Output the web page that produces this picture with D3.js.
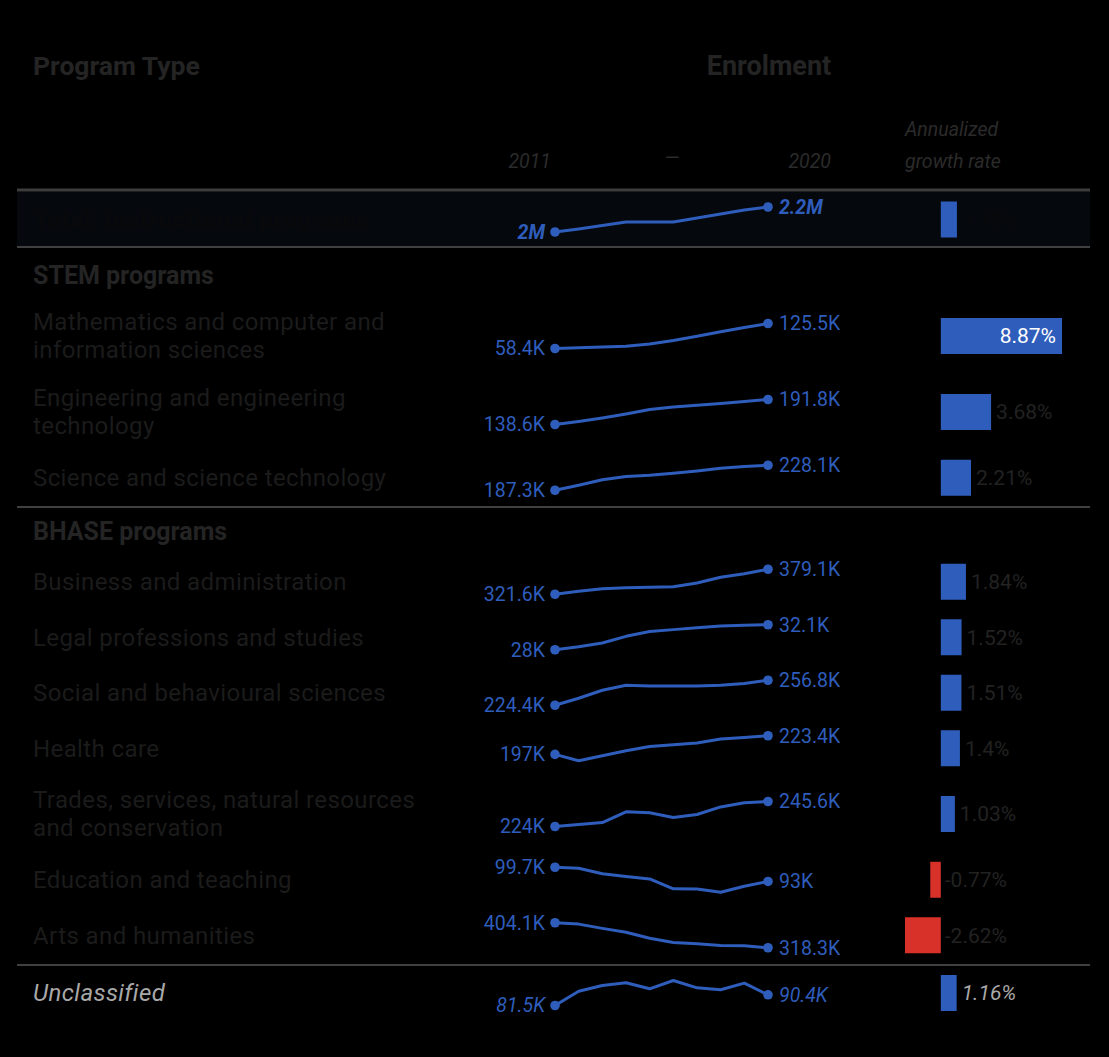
<!DOCTYPE html>
<html>
<head>
<meta charset="utf-8">
<script src="https://cdn.jsdelivr.net/npm/d3@7"></script>
<style>
  html, body { margin: 0; padding: 0; background: #000; }
  svg { display: block; font-family: Roboto, "Noto Sans", sans-serif; }
</style>
</head>
<body>
<div id="chart"></div>
<script>
// data: enrolment (thousands), 2011..2020
const years = [2011, 2012, 2013, 2014, 2015, 2016, 2017, 2018, 2019, 2020];

const totalLabel = 'Total, instructional programs';
const totalValues = [1964.6, 1991, 2022, 2052, 2052, 2053, 2088, 2123, 2158, 2184.1];
const totalGrowth = 1.18;

const stemNames = [
  ['Mathematics and computer and', 'information sciences'],
  ['Engineering and engineering', 'technology'],
  ['Science and science technology']
];
const stemValues = [
  [58.4, 60.4, 62.4, 64.4, 70.5, 79.9, 91.3, 103.4, 114.8, 125.5],
  [138.6, 145.0, 152.4, 160.9, 170.5, 175.8, 179.6, 183.3, 187.5, 191.8],
  [187.3, 195.5, 204.4, 209.7, 211.8, 215.0, 218.7, 223.2, 226.1, 228.1]
];
const stemGrowth = [8.87, 3.68, 2.21];

const bhaseNames = [
  ['Business and administration'],
  ['Legal professions and studies'],
  ['Social and behavioural sciences'],
  ['Health care'],
  ['Trades, services, natural resources', 'and conservation'],
  ['Education and teaching'],
  ['Arts and humanities']
];
const bhaseValues = [
  [321.6, 328.5, 334.3, 336.6, 337.7, 338.9, 347.5, 360.7, 368.8, 379.1],
  [28, 28.5, 29.1, 30.2, 31.0, 31.3, 31.6, 31.9, 32.0, 32.1],
  [224.4, 233.5, 243.8, 250.3, 249.3, 249.3, 249.3, 250.3, 252.6, 256.8],
  [197, 188, 195.1, 202.2, 208.2, 210.7, 213.1, 218.8, 220.9, 223.4],
  [224, 225.7, 227.4, 236.7, 235.8, 231.8, 234.4, 240.9, 244.5, 245.6],
  [99.7, 99.2, 96.6, 95.3, 94.2, 89.5, 89.4, 87.9, 90.7, 93],
  [404.1, 399.4, 384.8, 371.3, 351.1, 336.5, 331.8, 326.4, 325.1, 318.3]
];
const bhaseGrowth = [1.84, 1.52, 1.51, 1.4, 1.03, -0.77, -2.62];

const otherLabel = 'Unclassified';
const otherValues = [81.5, 93.4, 98.1, 100.4, 95.4, 102.3, 96.2, 94.6, 100.1, 90.4];
const otherGrowth = 1.16;

// layout
const width = 1109;
const height = 1057;
const left = 17, right = 1090;
const blue = '#2f5dbb';
const red = '#d8312a';
const single = 55.5, double = 76;

const svg = d3.select('#chart').append('svg')
  .attr('width', width)
  .attr('height', height)
  .attr('viewBox', [0, 0, width, height]);

svg.append('rect').attr('width', width).attr('height', height).attr('fill', '#000');

// 行の並びを組み立てる
const rows = [];
let y = 192;
rows.push({ type: 'row', kind: 'total', names: [totalLabel], values: totalValues, growth: totalGrowth, top: y, h: 55 });
y += 55;
rows.push({ type: 'line', y: y });
rows.push({ type: 'section', name: 'STEM programs', y: y + 28 });
y += 51;
stemNames.forEach((n, i) => {
  const h = n.length > 1 ? double : single;
  rows.push({ type: 'row', kind: 'normal', names: n, values: stemValues[i], growth: stemGrowth[i], top: y, h: h });
  y += h;
});
y = 507;
rows.push({ type: 'line', y: y });
rows.push({ type: 'section', name: 'BHASE programs', y: y + 24 });
y += 47;
bhaseNames.forEach((n, i) => {
  const h = n.length > 1 ? double : single;
  rows.push({ type: 'row', kind: 'normal', names: n, values: bhaseValues[i], growth: bhaseGrowth[i], top: y, h: h });
  y += h;
});
y = 965;
rows.push({ type: 'line', y: y });
rows.push({ type: 'row', kind: 'other', names: [otherLabel], values: otherValues, growth: otherGrowth, top: y, h: 56 });

// scales
const xSpark = d3.scaleLinear().domain(d3.extent(years)).range([555, 768]);
const allGrowth = [totalGrowth, ...stemGrowth, ...bhaseGrowth, otherGrowth];
const xBar = d3.scaleLinear().domain([d3.min(allGrowth), d3.max(allGrowth)]).range([905, 1062]);

function fmt(v) {
  if (v >= 1000) return (+(v / 1000).toFixed(1)) + 'M';
  return (+v.toFixed(1)) + 'K';
}

// header
svg.append('text').attr('x', 33).attr('y', 66).attr('dy', '0.35em')
  .attr('font-size', 26.5).attr('font-weight', 700).attr('fill', '#242424')
  .text('Program Type');
svg.append('text').attr('x', 769).attr('y', 66).attr('dy', '0.35em')
  .attr('text-anchor', 'middle')
  .attr('font-size', 27).attr('font-weight', 700).attr('fill', '#242424')
  .text('Enrolment');

const sub = svg.append('g').attr('font-size', 19.5).attr('font-style', 'italic').attr('fill', '#2b2b2b');
sub.append('text').attr('x', 551).attr('y', 161).attr('dy', '0.35em').attr('text-anchor', 'end').text(years[0]);
sub.append('text').attr('x', 672).attr('y', 157).attr('dy', '0.35em').attr('text-anchor', 'middle').text('—');
sub.append('text').attr('x', 831).attr('y', 161).attr('dy', '0.35em').attr('text-anchor', 'end').text(years[years.length - 1]);
sub.append('text').attr('x', 905).attr('y', 129).attr('dy', '0.35em').text('Annualized');
sub.append('text').attr('x', 905).attr('y', 161).attr('dy', '0.35em').text('growth rate');

svg.append('line').attr('x1', left).attr('x2', right).attr('y1', 190).attr('y2', 190)
  .attr('stroke', '#3d3d3d').attr('stroke-width', 3);

const line = d3.line().x((d, i) => xSpark(years[i])).y(d => d);

rows.forEach(r => {
  if (r.type === 'line') {
    svg.append('line').attr('x1', left).attr('x2', right).attr('y1', r.y).attr('y2', r.y)
      .attr('stroke', '#404040').attr('stroke-width', 2);
    return;
  }
  if (r.type === 'section') {
    svg.append('text').attr('x', 33).attr('y', r.y).attr('dy', '0.35em')
      .attr('font-size', 25).attr('font-weight', 700).attr('fill', '#242424')
      .text(r.name);
    return;
  }

  const c = r.top + r.h / 2;
  const g = svg.append('g');

  if (r.kind === 'total') {
    g.append('rect').attr('x', left).attr('y', r.top).attr('width', right - left).attr('height', r.h - 1)
      .attr('fill', '#05080d');
  }

  // ラベル
  const labelColor = r.kind === 'total' ? '#08090b' : (r.kind === 'other' ? '#a8a8a8' : '#1b1b1b');
  r.names.forEach((n, i) => {
    g.append('text')
      .attr('x', 33)
      .attr('y', c + (i - (r.names.length - 1) / 2) * 28)
      .attr('dy', '0.35em')
      .attr('font-size', 24)
      .attr('letter-spacing', r.kind === 'total' ? 0.9 : 0.4)
      .attr('font-weight', r.kind === 'total' ? 700 : null)
      .attr('font-style', r.kind === 'other' ? 'italic' : null)
      .attr('fill', labelColor)
      .text(n);
  });

  // sparkline
  const ySpark = d3.scaleLinear().domain(d3.extent(r.values)).range([c + 12.5, c - 12.5]);
  const pts = r.values.map(v => ySpark(v));
  g.append('path').attr('d', line(pts))
    .attr('fill', 'none').attr('stroke', blue).attr('stroke-width', 3)
    .attr('stroke-linejoin', 'round');

  const first = 0, last = r.values.length - 1;
  [first, last].forEach(i => {
    g.append('circle').attr('cx', xSpark(years[i])).attr('cy', pts[i]).attr('r', 4.8).attr('fill', blue);
  });

  const valStyle = sel => sel
    .attr('font-size', 19.5)
    .attr('fill', blue)
    .attr('font-style', r.kind === 'normal' ? null : 'italic')
    .attr('font-weight', r.kind === 'total' ? 700 : null)
    .attr('dy', '0.35em');

  g.append('text').attr('x', xSpark(years[first]) - 10).attr('y', pts[first])
    .attr('text-anchor', 'end').call(valStyle).text(fmt(r.values[first]));
  g.append('text').attr('x', xSpark(years[last]) + 11).attr('y', pts[last])
    .call(valStyle).text(fmt(r.values[last]));

  // growth bar
  const v = r.growth;
  const x0 = xBar(0);
  g.append('rect')
    .attr('x', Math.min(x0, xBar(v)))
    .attr('y', c - 18)
    .attr('width', Math.abs(xBar(v) - x0))
    .attr('height', 36)
    .attr('fill', v < 0 ? red : blue);

  const inside = v === d3.max(allGrowth);
  g.append('text')
    .attr('x', inside ? xBar(v) - 6 : (v < 0 ? x0 + 4 : xBar(v) + 5))
    .attr('y', c)
    .attr('dy', '0.35em')
    .attr('text-anchor', inside ? 'end' : 'start')
    .attr('font-size', 21)
    .attr('font-style', r.kind === 'other' ? 'italic' : null)
    .attr('fill', inside ? '#fff' : (r.kind === 'other' ? '#a8a8a8' : (r.kind === 'total' ? '#08090b' : '#222')))
    .text(v + '%');
});
</script>
</body>
</html>
